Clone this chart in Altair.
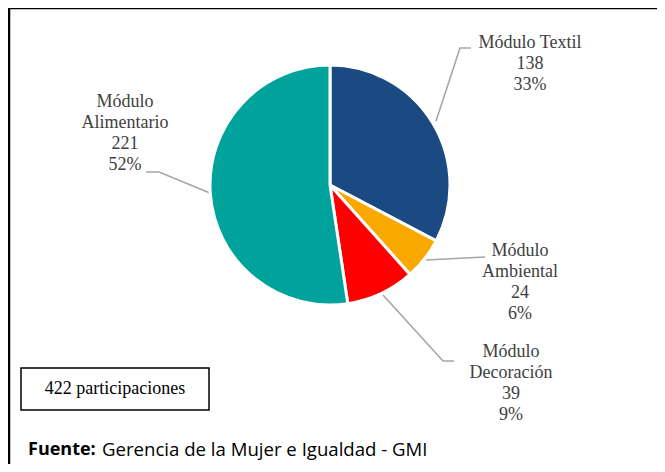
import altair as alt
import pandas as pd

# ---------------- data ----------------
categorias = ["Módulo Textil", "Módulo Ambiental", "Módulo Decoración", "Módulo Alimentario"]
nombres_etiqueta = ["Módulo Textil", "Módulo\nAmbiental", "Módulo\nDecoración", "Módulo\nAlimentario"]
valores = [138, 24, 39, 221]
fuente_titulo = "Fuente:"
fuente_texto = "Gerencia de la Mujer e Igualdad - GMI"

# ---------------- styles / layout ----------------
colores = ["#1B4A82", "#F9A800", "#FF0000", "#00A39B"]
W, H = 649, 456
pie_cx, pie_cy, pie_r = 322, 177, 120
label_pos = {  # centre of first line of each label block (plot pixels)
    "Módulo Textil": (522, 35),
    "Módulo Ambiental": (512, 243),
    "Módulo Decoración": (503, 344),
    "Módulo Alimentario": (117, 94),
}
leader_pts = {
    "Módulo Textil": [(428, 113), (452, 40), (463, 40)],
    "Módulo Ambiental": [(418, 252), (477, 249)],
    "Módulo Decoración": [(375, 287), (435, 353), (446, 353)],
    "Módulo Alimentario": [(202, 185), (151, 164), (138, 164)],
}

total = sum(valores)
pct = [round(v * 100 / total) for v in valores]

df_pie = pd.DataFrame({
    "categoria": categorias,
    "valor": valores,
    "orden": list(range(len(categorias))),
})

df_lab = pd.DataFrame({
    "categoria": categorias,
    "texto": [f"{n}\n{v}\n{p}%" for n, v, p in zip(nombres_etiqueta, valores, pct)],
    "x": [label_pos[c][0] for c in categorias],
    "y": [label_pos[c][1] for c in categorias],
})

rows = []
for c in categorias:
    for i, (px, py) in enumerate(leader_pts[c]):
        rows.append({"categoria": c, "i": i, "x": px, "y": py})
df_lead = pd.DataFrame(rows)

xs = alt.Scale(domain=[0, W], nice=False, zero=False)
ys = alt.Scale(domain=[0, H], nice=False, zero=False, reverse=True)

pie = alt.Chart(df_pie).mark_arc(radius=pie_r, stroke="white", strokeWidth=3).encode(
    theta=alt.Theta("valor:Q", stack=True),
    color=alt.Color("categoria:N", scale=alt.Scale(domain=categorias, range=colores), legend=None),
    order=alt.Order("orden:Q"),
    x=alt.value(pie_cx),
    y=alt.value(pie_cy),
)

leaders = alt.Chart(df_lead).mark_line(color="#A6A6A6", strokeWidth=1.6).encode(
    x=alt.X("x:Q", scale=xs, axis=None),
    y=alt.Y("y:Q", scale=ys, axis=None),
    detail="categoria:N",
    order="i:Q",
)

labels = alt.Chart(df_lab).mark_text(
    font="Liberation Serif", fontSize=18, lineHeight=21, color="#404040",
    align="center", baseline="middle", lineBreak="\n",
).encode(
    x=alt.X("x:Q", scale=xs, axis=None),
    y=alt.Y("y:Q", scale=ys, axis=None),
    text="texto:N",
)

df_box = pd.DataFrame({"t": [f"{total} participaciones"]})
box = alt.Chart(df_box).mark_rect(fill="white", stroke="black", strokeWidth=1.5).encode(
    x=alt.value(13), x2=alt.value(201), y=alt.value(360), y2=alt.value(402)
)
box_text = alt.Chart(df_box).mark_text(
    font="Liberation Serif", fontSize=18, color="black", align="center", baseline="middle"
).encode(x=alt.value(107), y=alt.value(381), text="t:N")

df_f = pd.DataFrame({"a": [fuente_titulo], "b": [fuente_texto]})
f1 = alt.Chart(df_f).mark_text(
    font="Open Sans", fontSize=18, fontWeight="bold", color="black", align="left", baseline="middle"
).encode(x=alt.value(20), y=alt.value(442), text="a:N")
f2 = alt.Chart(df_f).mark_text(
    font="Open Sans", fontSize=18.6, color="black", align="left", baseline="middle"
).encode(x=alt.value(94), y=alt.value(442), text="b:N")

border_l = alt.Chart(df_f).mark_rule(color="black", strokeWidth=2.5).encode(
    x=alt.value(1), y=alt.value(0), y2=alt.value(H)
)
border_t = alt.Chart(df_f).mark_rule(color="black", strokeWidth=2.5).encode(
    x=alt.value(0), x2=alt.value(W), y=alt.value(0)
)

chart = alt.layer(
    leaders, pie, labels, box, box_text, f1, f2, border_l, border_t
).properties(
    width=W, height=H, padding=0, autosize=alt.AutoSizeParams(type="none")
).configure_view(stroke=None)

chart.save("out.html", embed_options={"renderer": "svg", "actions": False})
